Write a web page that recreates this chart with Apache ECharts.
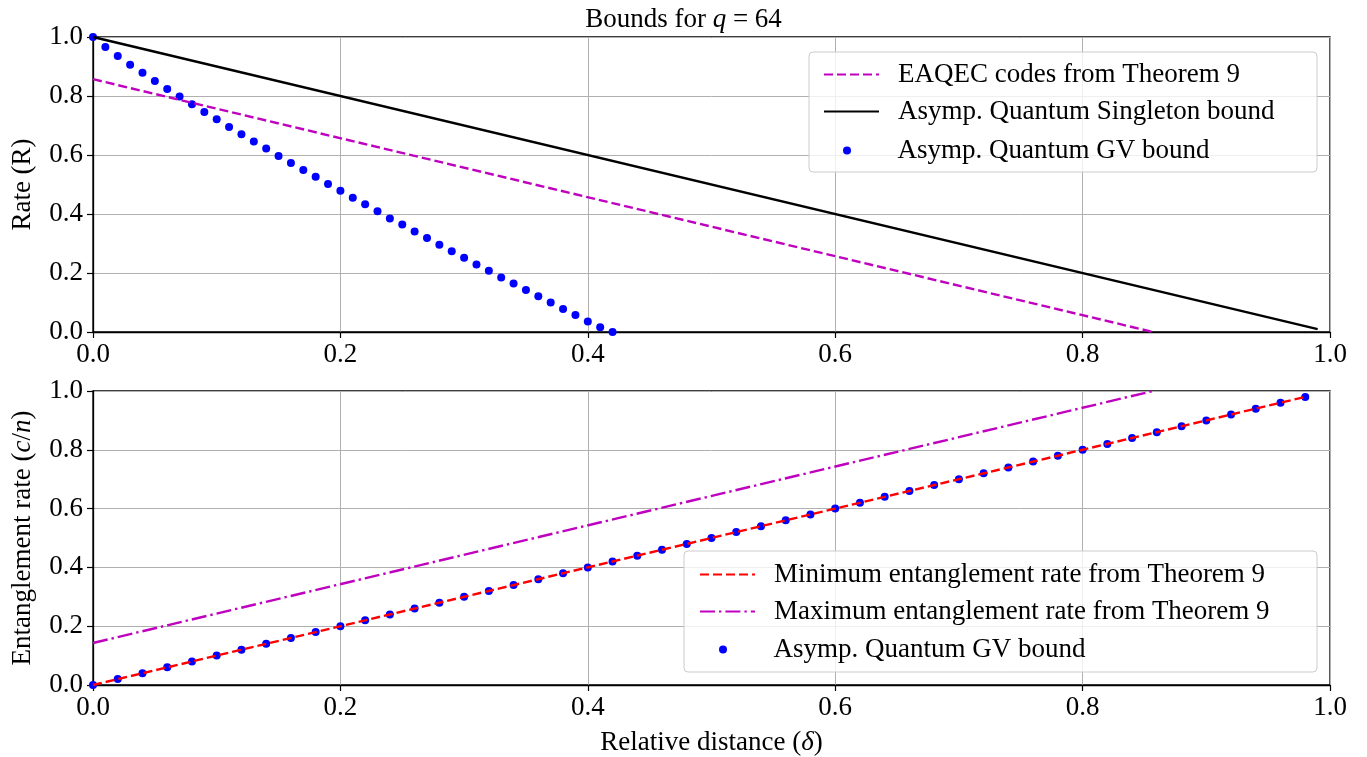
<!DOCTYPE html>
<html>
<head>
<meta charset="utf-8">
<script src="https://cdn.jsdelivr.net/npm/echarts@6/dist/echarts.min.js"></script>
<style>
html, body { margin: 0; padding: 0; background: #fff; }
#chart { width: 1367px; height: 757px; }
</style>
</head>
<body>
<div id="chart"></div>
<script>
// top panel: rate vs relative distance
var gvDeltaTop = [0, 0.01, 0.02, 0.03, 0.04, 0.05, 0.06, 0.07, 0.08, 0.09, 0.10,
  0.11, 0.12, 0.13, 0.14, 0.15, 0.16, 0.17, 0.18, 0.19, 0.20,
  0.21, 0.22, 0.23, 0.24, 0.25, 0.26, 0.27, 0.28, 0.29, 0.30,
  0.31, 0.32, 0.33, 0.34, 0.35, 0.36, 0.37, 0.38, 0.39, 0.40, 0.41, 0.42];
var gvRate = [1.0, 0.966, 0.936, 0.906, 0.879, 0.851, 0.824, 0.798, 0.772, 0.746, 0.721,
  0.695, 0.670, 0.646, 0.622, 0.597, 0.573, 0.549, 0.526, 0.502, 0.479,
  0.455, 0.433, 0.409, 0.385, 0.364, 0.341, 0.319, 0.296, 0.274, 0.252,
  0.229, 0.208, 0.185, 0.164, 0.142, 0.121, 0.100, 0.078, 0.058, 0.036, 0.016, 0.0];
var singletonX = [0, 0.99];
var singletonY = [1.0, 0.01];
var eaqecX = [0, 0.857];
var eaqecY = [0.857, 0];

// bottom panel: entanglement rate
var gvDeltaBot = [0, 0.02, 0.04, 0.06, 0.08, 0.10, 0.12, 0.14, 0.16, 0.18, 0.20,
  0.22, 0.24, 0.26, 0.28, 0.30, 0.32, 0.34, 0.36, 0.38, 0.40,
  0.42, 0.44, 0.46, 0.48, 0.50, 0.52, 0.54, 0.56, 0.58, 0.60,
  0.62, 0.64, 0.66, 0.68, 0.70, 0.72, 0.74, 0.76, 0.78, 0.80,
  0.82, 0.84, 0.86, 0.88, 0.90, 0.92, 0.94, 0.96, 0.98];
var gvEnt = [0, 0.02, 0.04, 0.06, 0.08, 0.10, 0.12, 0.14, 0.16, 0.18, 0.20,
  0.22, 0.24, 0.26, 0.28, 0.30, 0.32, 0.34, 0.36, 0.38, 0.40,
  0.42, 0.44, 0.46, 0.48, 0.50, 0.52, 0.54, 0.56, 0.58, 0.60,
  0.62, 0.64, 0.66, 0.68, 0.70, 0.72, 0.74, 0.76, 0.78, 0.80,
  0.82, 0.84, 0.86, 0.88, 0.90, 0.92, 0.94, 0.96, 0.98];
var minEntX = [0, 0.98];
var minEntY = [0, 0.98];
var maxEntX = [0, 0.857];
var maxEntY = [0.143, 1.0];

var ticks = ['0.0', '0.2', '0.4', '0.6', '0.8', '1.0'];

function pairs(xs, ys) {
  var out = [];
  for (var i = 0; i < xs.length; i++) out.push([xs[i], ys[i]]);
  return out;
}

var FONT = 'Liberation Serif';
var FS = 27;   // labels, legend, title
var TFS = 27;  // tick labels

function xAx(idx, name) {
  return {
    type: 'value', gridIndex: idx, min: 0, max: 1, interval: 0.2,
    name: name || '', nameLocation: 'middle', nameGap: 44,
    nameTextStyle: { fontFamily: FONT, fontSize: FS, color: '#000',
      rich: { i: { fontFamily: FONT, fontStyle: 'italic', fontSize: FS, color: '#000' } } },
    axisLine: { show: true, lineStyle: { color: '#000', width: 1.3 } },
    axisTick: { show: true, length: 6, lineStyle: { color: '#000', width: 1.2 } },
    axisLabel: { margin: 9, fontFamily: FONT, fontSize: TFS, color: '#000',
      formatter: function (v) { return ticks[Math.round(v * 5)]; } },
    splitLine: { show: true, lineStyle: { color: '#b0b0b0', width: 1 } }
  };
}
function yAx(idx, name) {
  return {
    type: 'value', gridIndex: idx, min: 0, max: 1, interval: 0.2,
    name: name, nameLocation: 'middle', nameGap: 57,
    nameTextStyle: { fontFamily: FONT, fontSize: FS, color: '#000',
      rich: { i: { fontFamily: FONT, fontStyle: 'italic', fontSize: FS, color: '#000' } } },
    axisLine: { show: true, lineStyle: { color: '#000', width: 1.3 } },
    axisTick: { show: true, length: 6, lineStyle: { color: '#000', width: 1.2 } },
    axisLabel: { margin: 10, fontFamily: FONT, fontSize: TFS, color: '#000',
      formatter: function (v) { return ticks[Math.round(v * 5)]; } },
    splitLine: { show: true, lineStyle: { color: '#b0b0b0', width: 1 } }
  };
}

var legendText = { fontFamily: FONT, fontSize: FS, color: '#000', padding: [0, 0, 0, 14] };
var legendTextDot = { fontFamily: FONT, fontSize: FS, color: '#000', padding: [0, 0, 0, 18] };

var myChart = echarts.init(document.getElementById('chart'));
var option = {
  backgroundColor: '#fff',
  animation: false,
  title: {
    text: 'Bounds for {i|q} = 64',
    left: 'center', top: 1,
    textStyle: { fontFamily: FONT, fontSize: FS, fontWeight: 'normal', color: '#000',
      rich: { i: { fontFamily: FONT, fontStyle: 'italic', fontSize: FS, color: '#000' } } }
  },
  grid: [
    { left: 93, top: 37, width: 1237, height: 295, show: true, borderColor: '#000', borderWidth: 1.3, backgroundColor: 'transparent' },
    { left: 93, top: 391, width: 1237, height: 295, show: true, borderColor: '#000', borderWidth: 1.3, backgroundColor: 'transparent' }
  ],
  xAxis: [xAx(0), xAx(1, 'Relative distance ({i|δ})')],
  yAxis: [yAx(0, 'Rate (R)'), yAx(1, 'Entanglement rate ({i|c}/{i|n})')],
  legend: [
    { data: ['EAQEC codes from Theorem 9', 'Asymp. Quantum Singleton bound'],
      orient: 'vertical', left: 818, top: 56, itemWidth: 55, itemHeight: 14, itemGap: 10,
      itemStyle: { opacity: 0 }, textStyle: legendText, selectedMode: false },
    { data: [{ name: 'Asymp. Quantum GV bound', icon: 'circle' }],
      orient: 'vertical', left: 838, top: 132, itemWidth: 55, itemHeight: 8,
      itemStyle: { opacity: 1 }, textStyle: legendTextDot, selectedMode: false },
    { data: ['Minimum entanglement rate from Theorem 9', 'Maximum entanglement rate from Theorem 9'],
      orient: 'vertical', left: 694, top: 556, itemWidth: 55, itemHeight: 14, itemGap: 10,
      itemStyle: { opacity: 0 }, textStyle: legendText, selectedMode: false },
    { data: [{ name: 'Asymp. Quantum GV bound ', icon: 'circle' }],
      orient: 'vertical', left: 714, top: 631, itemWidth: 55, itemHeight: 8,
      itemStyle: { opacity: 1 }, textStyle: legendTextDot, selectedMode: false }
  ],
  graphic: [
    { type: 'rect', z: 3, shape: { x: 809, y: 52, width: 508, height: 120, r: 4 },
      style: { fill: 'rgba(255,255,255,0.8)', stroke: '#cccccc', lineWidth: 1 } },
    { type: 'rect', z: 3, shape: { x: 684, y: 551, width: 633, height: 121, r: 4 },
      style: { fill: 'rgba(255,255,255,0.8)', stroke: '#cccccc', lineWidth: 1 } }
  ],
  series: [
    { name: 'EAQEC codes from Theorem 9', type: 'line', xAxisIndex: 0, yAxisIndex: 0,
      data: pairs(eaqecX, eaqecY), symbol: 'none', color: '#bf00bf',
      lineStyle: { color: '#bf00bf', width: 2.4, type: [9, 4] } },
    { name: 'Asymp. Quantum Singleton bound', type: 'line', xAxisIndex: 0, yAxisIndex: 0,
      data: pairs(singletonX, singletonY), symbol: 'none', color: '#000',
      lineStyle: { color: '#000', width: 2.4 } },
    { name: 'Asymp. Quantum GV bound', type: 'scatter', xAxisIndex: 0, yAxisIndex: 0,
      data: pairs(gvDeltaTop, gvRate), symbol: 'circle', symbolSize: 8,
      itemStyle: { color: '#0000ff', opacity: 1 } },
    { name: 'Minimum entanglement rate from Theorem 9', type: 'line', xAxisIndex: 1, yAxisIndex: 1,
      data: pairs(minEntX, minEntY), symbol: 'none', color: '#ff0000',
      lineStyle: { color: '#ff0000', width: 2.4, type: [9, 4] } },
    { name: 'Maximum entanglement rate from Theorem 9', type: 'line', xAxisIndex: 1, yAxisIndex: 1,
      data: pairs(maxEntX, maxEntY), symbol: 'none', color: '#bf00bf',
      lineStyle: { color: '#bf00bf', width: 2.4, type: [15, 4, 2.4, 4] } },
    { name: 'Asymp. Quantum GV bound ', type: 'scatter', xAxisIndex: 1, yAxisIndex: 1,
      data: pairs(gvDeltaBot, gvEnt), symbol: 'circle', symbolSize: 8,
      itemStyle: { color: '#0000ff', opacity: 1 } }
  ]
};
myChart.setOption(option);
</script>
</body>
</html>
